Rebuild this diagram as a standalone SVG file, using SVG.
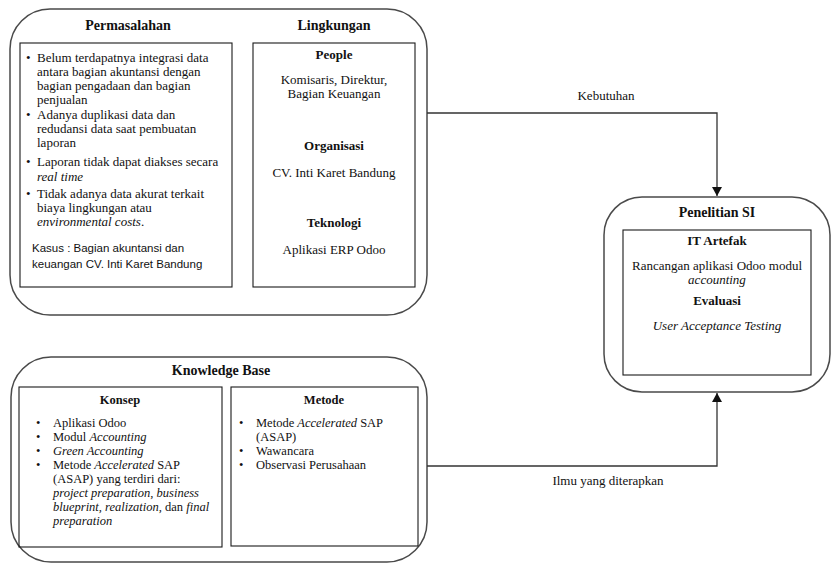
<svg xmlns="http://www.w3.org/2000/svg" width="838" height="565" viewBox="0 0 838 565">
<style>
.outer{fill:none;stroke:#4a4a4a;stroke-width:1.5}
.inner{fill:none;stroke:#1a1a1a;stroke-width:1.1}
.t{font-family:"Liberation Serif","Times New Roman",serif;font-size:13px;fill:#111}
.s{font-family:"Liberation Serif","Times New Roman",serif;font-size:12.5px;fill:#111}
.b{font-weight:bold}
.h{font-family:"Liberation Serif","Times New Roman",serif;font-size:14px;font-weight:bold;fill:#111}
.c{text-anchor:middle}
.k{font-family:"Liberation Sans",Arial,sans-serif;font-size:11.5px;fill:#111}
.conn{fill:none;stroke:#333;stroke-width:1.3}
</style>
<defs>
<marker id="arr" markerWidth="10" markerHeight="10" refX="9" refY="5" orient="auto" markerUnits="userSpaceOnUse">
<path d="M0,0 L9,5 L0,10 z" fill="#111"/>
</marker>
</defs>

<g id="permasalahan-lingkungan">
<rect class="outer" x="10" y="9" width="417" height="306" rx="40" ry="40"/>
<text class="h c" x="128" y="30">Permasalahan</text>
<text class="h c" x="334" y="30">Lingkungan</text>
</g>

<g id="permasalahan">
<rect class="inner" x="20" y="43" width="212" height="244"/>
<g class="t">
<text x="26" y="62">•</text>
<text x="37" y="62">Belum terdapatnya integrasi data</text>
<text x="37" y="76">antara bagian akuntansi dengan</text>
<text x="37" y="90">bagian pengadaan dan bagian</text>
<text x="37" y="104">penjualan</text>
<text x="26" y="119">•</text>
<text x="37" y="119">Adanya duplikasi data dan</text>
<text x="37" y="133">redudansi data saat pembuatan</text>
<text x="37" y="147">laporan</text>
<text x="26" y="166">•</text>
<text x="37" y="166">Laporan tidak dapat diakses secara</text>
<text x="37" y="181" font-style="italic">real time</text>
<text x="26" y="198">•</text>
<text x="37" y="198">Tidak adanya data akurat terkait</text>
<text x="37" y="212">biaya lingkungan atau</text>
<text x="37" y="226"><tspan font-style="italic">environmental costs</tspan>.</text>
</g>
<text class="k" x="32" y="252">Kasus : Bagian akuntansi dan</text>
<text class="k" x="32" y="268">keuangan CV. Inti Karet Bandung</text>
</g>

<g id="lingkungan">
<rect class="inner" x="253" y="43" width="162" height="244"/>
<text class="t b c" x="334" y="59">People</text>
<text class="t c" x="334" y="84">Komisaris, Direktur,</text>
<text class="t c" x="334" y="98">Bagian Keuangan</text>
<text class="t b c" x="334" y="150">Organisasi</text>
<text class="t c" x="334" y="177">CV. Inti Karet Bandung</text>
<text class="t b c" x="334" y="227">Teknologi</text>
<text class="t c" x="334" y="254">Aplikasi ERP Odoo</text>
</g>

<g id="penelitian-si">
<rect class="outer" x="604" y="197" width="226" height="195" rx="38" ry="38"/>
<text class="h c" x="717" y="217">Penelitian SI</text>
<rect class="inner" x="623" y="230" width="188" height="145"/>
<text class="t b c" x="717" y="245">IT Artefak</text>
<text class="t c" x="717" y="270">Rancangan aplikasi Odoo modul</text>
<text class="t c" x="717" y="284" font-style="italic">accounting</text>
<text class="t b c" x="717" y="305">Evaluasi</text>
<text class="t c" x="717" y="330" font-style="italic">User Acceptance Testing</text>
</g>

<g id="knowledge-base">
<rect class="outer" x="11" y="357" width="416" height="205" rx="40" ry="40"/>
<text class="h c" x="221" y="375">Knowledge Base</text>
</g>

<g id="konsep">
<rect class="inner" x="19" y="387" width="203" height="160"/>
<text class="s b c" x="120" y="404">Konsep</text>
<g class="s">
<text x="36" y="427">•</text><text x="53" y="427">Aplikasi Odoo</text>
<text x="36" y="441">•</text><text x="53" y="441">Modul <tspan font-style="italic">Accounting</tspan></text>
<text x="36" y="455">•</text><text x="53" y="455" font-style="italic">Green Accounting</text>
<text x="36" y="469">•</text><text x="53" y="469">Metode <tspan font-style="italic">Accelerated</tspan> SAP</text>
<text x="53" y="483">(ASAP) yang terdiri dari:</text>
<text x="53" y="497" font-style="italic">project preparation, business</text>
<text x="53" y="511"><tspan font-style="italic">blueprint, realization,</tspan> dan <tspan font-style="italic">final</tspan></text>
<text x="53" y="525" font-style="italic">preparation</text>
</g>
</g>

<g id="metode">
<rect class="inner" x="231" y="387" width="187" height="159"/>
<text class="s b c" x="324" y="404">Metode</text>
<g class="s">
<text x="239" y="427">•</text><text x="256" y="427">Metode <tspan font-style="italic">Accelerated</tspan> SAP</text>
<text x="256" y="441">(ASAP)</text>
<text x="239" y="455">•</text><text x="256" y="455">Wawancara</text>
<text x="239" y="469">•</text><text x="256" y="469">Observasi Perusahaan</text>
</g>
</g>

<g id="connectors">
<path class="conn" d="M427,113 H717 V196" marker-end="url(#arr)"/>
<path class="conn" d="M427,466 H717 V393" marker-end="url(#arr)"/>
<text class="t c" x="606" y="100">Kebutuhan</text>
<text class="t c" x="608" y="485">Ilmu yang diterapkan</text>
</g>
</svg>
